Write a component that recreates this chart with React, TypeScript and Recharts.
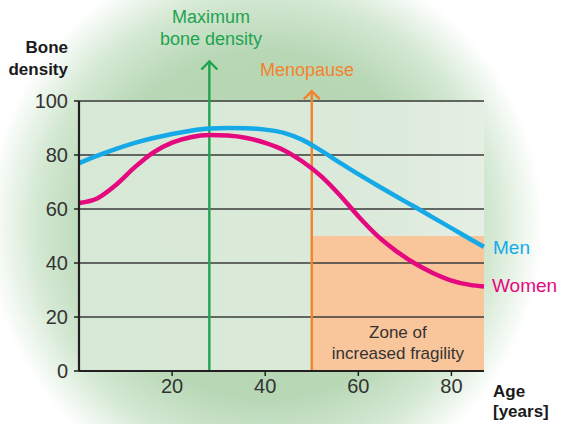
import { LineChart, Line, XAxis, YAxis, CartesianGrid, ReferenceArea, ReferenceLine } from 'recharts'

const ages = [0, 4, 8, 12, 16, 20, 24, 28, 32, 36, 40, 44, 48, 52, 56, 60, 64, 68, 72, 76, 80, 84, 87]
const men = [77, 79.8, 82.3, 84.5, 86.3, 87.8, 89, 89.8, 90, 89.9, 89.4, 88.2, 85.6, 81.6, 77.2, 72.9, 68.8, 64.8, 60.9, 56.9, 52.9, 48.9, 46]
const women = [62.2, 64, 69, 75.5, 81, 84.6, 86.6, 87.4, 87.2, 86.3, 84.5, 81.8, 77.6, 72.2, 65.2, 57.3, 50.2, 44.6, 40, 36.3, 33.5, 31.9, 31.3]
const yTicks = [0, 20, 40, 60, 80, 100]
const xTicks = [20, 40, 60, 80]
const gridRows = [20, 40, 60, 80, 100]

const peakAge = 28
const peakArrowTop = 115
const menopauseAge = 50
const menopauseArrowTop = 104
const fragilityLimit = 50
const maxAge = 87

const data = ages.map((age, i) => ({ age, men: men[i], women: women[i] }))

const font = '"Liberation Sans", Arial, sans-serif'
const textGrey = '#333'

const arrow = (color: string) => (props: any) => {
  const { x1, y1, x2, y2 } = props
  const top = Math.min(y1, y2)
  const bottom = Math.max(y1, y2)
  return (
    <g>
      <line x1={x1} x2={x2} y1={bottom} y2={top + 1} stroke={color} strokeWidth={2.4} />
      <polyline
        points={`${x1 - 8},${top + 9} ${x1},${top + 1} ${x1 + 8},${top + 9}`}
        fill="none"
        stroke={color}
        strokeWidth={2.4}
      />
    </g>
  )
}

const ZoneLabel = (props: any) => {
  const { x, y, width, height } = props.viewBox
  const cx = x + width / 2
  return (
    <text textAnchor="middle" fontFamily={font} fontSize={17} fill={textGrey}>
      <tspan x={cx} y={y + height - 33}>Zone of</tspan>
      <tspan x={cx} y={y + height - 12}>increased fragility</tspan>
    </text>
  )
}

export default function App() {
  return (
    <div
      style={{
        position: 'absolute',
        left: 0,
        top: 0,
        width: 562,
        height: 424,
        overflow: 'hidden',
        fontFamily: font,
        background:
          'radial-gradient(circle 278px at 265px 225px, #b3d4b1 0%, #b7d7b5 62%, #d3e8d2 82%, #ffffff 100%)',
      }}
    >
      {/* gradient for the plot background, referenced by id from the chart */}
      <svg width={0} height={0} style={{ position: 'absolute' }}>
        <defs>
          <linearGradient id="plotBg" x1="0" y1="0" x2="1" y2="0">
            <stop offset="0%" stopColor="#d8e8d6" />
            <stop offset="75%" stopColor="#dbeada" />
            <stop offset="100%" stopColor="#e5efe4" />
          </linearGradient>
        </defs>
      </svg>
      <LineChart
        width={562}
        height={424}
        data={data}
        margin={{ top: 101, right: 78, bottom: 0, left: 0 }}
      >
        <CartesianGrid horizontal={false} vertical={false} fill="url(#plotBg)" fillOpacity={1} />
        <ReferenceArea
          x1={menopauseAge}
          x2={maxAge}
          y1={0}
          y2={fragilityLimit}
          fill="#f9c59b"
          fillOpacity={1}
          stroke="none"
          label={ZoneLabel}
        />
        {gridRows.map((v) => (
          <ReferenceLine key={v} y={v} stroke="#3a3a3a" strokeWidth={1.3} />
        ))}
        <XAxis
          dataKey="age"
          type="number"
          domain={[0, maxAge]}
          ticks={xTicks}
          height={53}
          tickSize={5}
          tickMargin={3}
          axisLine={{ stroke: '#231f20', strokeWidth: 2.2 }}
          tickLine={{ stroke: '#231f20', strokeWidth: 1.5 }}
          tick={{ fill: textGrey, fontSize: 20, fontFamily: font }}
        />
        <YAxis
          type="number"
          domain={[0, 100]}
          ticks={yTicks}
          width={79}
          tickSize={5}
          tickMargin={6}
          axisLine={{ stroke: '#231f20', strokeWidth: 2.2 }}
          tickLine={{ stroke: '#231f20', strokeWidth: 1.5 }}
          tick={{ fill: textGrey, fontSize: 20, fontFamily: font }}
        />
        <ReferenceLine
          segment={[{ x: peakAge, y: 0 }, { x: peakAge, y: peakArrowTop }]}
          ifOverflow="visible"
          stroke="#1fa34f"
          shape={arrow('#1fa34f')}
        />
        <ReferenceLine
          segment={[{ x: menopauseAge, y: 0 }, { x: menopauseAge, y: menopauseArrowTop }]}
          ifOverflow="visible"
          stroke="#f4822c"
          shape={arrow('#f4822c')}
        />
        <Line
          type="monotone"
          dataKey="men"
          stroke="#15a9e8"
          strokeWidth={4.5}
          dot={false}
          isAnimationActive={false}
        />
        <Line
          type="monotone"
          dataKey="women"
          stroke="#e4097f"
          strokeWidth={4.5}
          dot={false}
          isAnimationActive={false}
        />
      </LineChart>
      <svg
        width={562}
        height={424}
        style={{ position: 'absolute', left: 0, top: 0, pointerEvents: 'none' }}
        fontFamily={font}
      >
        <text textAnchor="end" fontSize={17} fontWeight="bold" fill="#1a1a1a">
          <tspan x={68} y={53}>Bone</tspan>
          <tspan x={68} y={75}>density</tspan>
        </text>
        <text textAnchor="middle" fontSize={18} fill="#1fa34f">
          <tspan x={211} y={23}>Maximum</tspan>
          <tspan x={211} y={45}>bone density</tspan>
        </text>
        <text x={307} y={76} textAnchor="middle" fontSize={18} fill="#f4822c">
          Menopause
        </text>
        <text x={493} y={254} fontSize={19} fill="#15a9e8">
          Men
        </text>
        <text x={492} y={292} fontSize={19} fill="#e4097f">
          Women
        </text>
        <text fontSize={17} fontWeight="bold" fill="#1a1a1a">
          <tspan x={493} y={397}>Age</tspan>
          <tspan x={493} y={417}>[years]</tspan>
        </text>
      </svg>
    </div>
  )
}
